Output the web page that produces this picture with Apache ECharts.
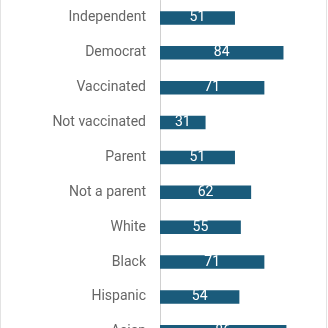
<!DOCTYPE html>
<html><head><meta charset="utf-8">
<script src="https://cdn.jsdelivr.net/npm/echarts@6/dist/echarts.min.js"></script>
<style>
html,body{margin:0;padding:0;background:#fff;}
#wrap{position:absolute;left:0;top:0;width:328px;height:328px;border-left:1px solid #e3e3e3;border-right:1px solid #e3e3e3;box-sizing:border-box;width:327px;}
#c{position:absolute;left:0;top:0;width:328px;height:328px;}
</style></head>
<body>
<div id="wrap"></div>
<div id="c"></div>
<script>
const categories = ["Independent","Democrat","Vaccinated","Not vaccinated","Parent","Not a parent","White","Black","Hispanic","Asian"];
const values = [51,84,71,31,51,62,55,71,54,86];

const chart = echarts.init(document.getElementById('c'), null, {renderer:'canvas'});
chart.setOption({
  animation:false,
  grid:{left:160, top:0.5, width:147, height:348.75, containLabel:false, outerBoundsMode:'none'},
  xAxis:{type:'value', min:0, max:100, show:false},
  yAxis:{type:'category', data:categories, inverse:true,
    axisLine:{show:true, lineStyle:{color:'#d0d0d0', width:1}},
    axisTick:{show:false},
    axisLabel:{color:'#666', fontSize:14, fontFamily:'Roboto', margin:14},
    splitLine:{show:false}
  },
  series:[{
    type:'bar', data:values, barWidth:13.5,
    itemStyle:{color:'#1a5b7b'},
    label:{show:true, position:'inside', color:'#fff', fontSize:14, fontFamily:'Roboto'}
  }]
});
</script>
</body></html>
